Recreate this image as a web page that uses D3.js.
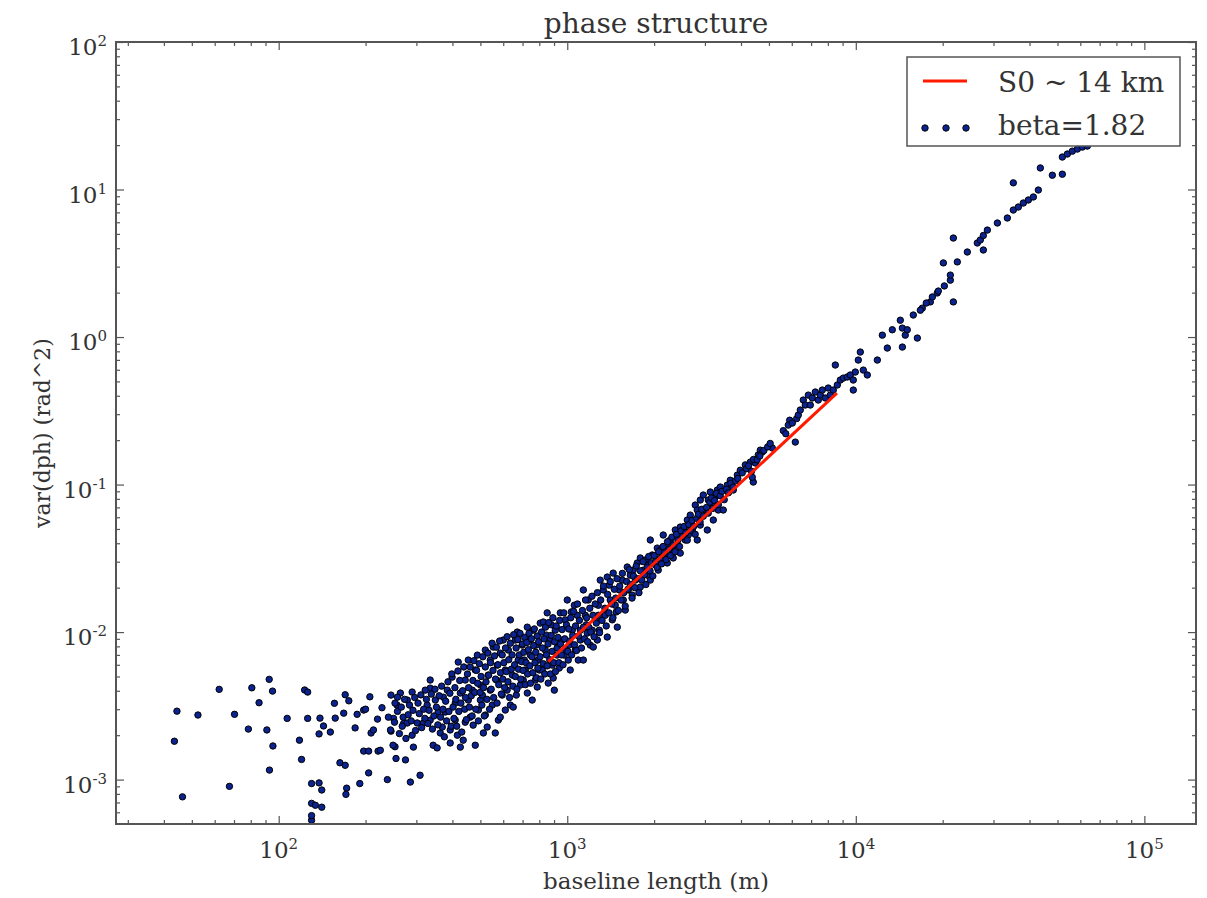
<!DOCTYPE html>
<html>
<head>
<meta charset="utf-8">
<script src="https://cdn.jsdelivr.net/npm/d3@7"></script>
<style>
  body { margin: 0; background: #fff; }
  svg text { font-family: "DejaVu Serif", serif; fill: #333; }
</style>
</head>
<body>
<svg id="chart" width="1207" height="898"></svg>
<script>
// Phase structure function: variance of phase difference vs baseline length.
// Each sample is [baseline length (m), var(dph) (rad^2)].

// Short baselines, noise-dominated floor
const sparsePoints = [
  [44.4,0.00291],[43.5,0.00182],[46.4,0.000764],[52.5,0.00274],[62.2,0.00409],[70.3,0.00277],
  [67.5,0.00090],[80.7,0.00419],[78.5,0.00220],[85.5,0.00332],[92.7,0.00478],[95.2,0.00398],
  [91.0,0.00217],[95.5,0.00169],[92.9,0.00116],[107,0.00260],[118,0.00185],[120,0.00137],
  [123,0.00405],[126,0.00392],[126,0.00260],[130,0.00094],[130,0.00069],[130,0.00053],
  [130,0.00057],[138,0.00095],[141,0.00085],[141,0.00065],[134,0.00067],[139,0.00261],
  [143,0.00231],[138,0.00204],[151,0.00210],[156,0.00329],[157,0.00261],[168,0.00282],
  [170,0.00376],[175,0.00342],[163,0.00130],[170,0.00125],[172,0.000875],[171,0.000794],
  [184,0.00224],[187,0.00277],[197,0.00296],[197,0.00156],[205,0.00156],[221,0.00156],
  [225,0.00158],[191,0.00094],[205,0.00111],[207,0.00364],[200,0.00300],[209,0.00207],
  [213,0.00217],[220,0.00257],[228,0.00307],[238,0.00100],[245,0.00374],[245,0.00213],
  [250,0.00260],[253,0.00167],[255,0.00139],[257,0.00320],[271,0.00240]
];

// Intermediate baselines, edges of the power-law band
const densePoints = [
  [264,0.00386],[270,0.00265],[279,0.00346],[279,0.00242],[290,0.00392],[290,0.00200],[293,0.00166],
  [302,0.00242],[253,0.00330],[258,0.00362],[244,0.00217],[249,0.00171],[240,0.00265],[286,0.000962],
  [309,0.00107],[275,0.00136],
  [317,0.00242],[335,0.00253],[335,0.00417],[335,0.00473],[343,0.00171],[354,0.00164],[363,0.00207],
  [327,0.00320],[349,0.00346],[357,0.00287],[322,0.00404],
  [369,0.00227],[372,0.00362],[378,0.00287],[393,0.00177],[399,0.00495],[409,0.00330],[419,0.00626],
  [426,0.00386],[426,0.00166],[384,0.00404],[409,0.00253],[393,0.00217],[416,0.00200],
  [436,0.00185],[454,0.00346],[454,0.00646],[461,0.00265],[443,0.00473],[469,0.00404],[480,0.00553],
  [492,0.00296],[472,0.00234],[488,0.00698],[500,0.00437],[480,0.00171],[500,0.00346],[443,0.00245],
  [512,0.00207],[520,0.00755],[532,0.00511],[541,0.00404],[550,0.00320],[563,0.00207],[554,0.00791],
  [572,0.00597],[577,0.00253],[520,0.00274],[508,0.00374],[541,0.00646],[568,0.00473],[586,0.00265],
  [586,0.00720],[528,0.00227],
  [600,0.00883],[610,0.00553],[619,0.00404],[635,0.00320],[650,0.00310],[661,0.00883],[671,0.0100],
  [676,0.00646],[645,0.00511],[625,0.00755],[687,0.00437],[595,0.00374],[666,0.00374],[635,0.0121],
  [610,0.00296],
  [698,0.00816],[715,0.00553],[727,0.00386],[727,0.0108],[745,0.00698],[762,0.0103],[775,0.00473],
  [787,0.00424],[793,0.00646],[806,0.0115],[710,0.00646],[756,0.00346],[739,0.00883],[781,0.00816],
  [800,0.00553],[704,0.00473],
  [826,0.0117],[839,0.00755],[852,0.0135],[859,0.00451],[873,0.00883],[887,0.00597],[894,0.00488],
  [909,0.0103],[923,0.00698],[946,0.0135],[819,0.00553],[846,0.00954],[880,0.0112],[931,0.00816],
  [902,0.00404],[938,0.00570],
  [961,0.00883],[984,0.0121],[1000,0.0165],[1008,0.00646],[1024,0.00553],[1041,0.0103],[1066,0.00755],
  [1083,0.0130],[1110,0.00883],[976,0.00698],[1058,0.0152],[1092,0.00646],[1016,0.00816],[1033,0.0137],
  [1137,0.0193],[1137,0.00646],[1155,0.0130],[1173,0.00984],[1182,0.0165],[1201,0.00816],[1231,0.00791],
  [1251,0.0121],[1281,0.0152],[1301,0.0225],[1221,0.0103],[1271,0.00883],[1164,0.0112],[1291,0.0103],
  [1333,0.0193],[1354,0.0130],[1376,0.0236],[1376,0.00925],[1409,0.0165],[1432,0.0121],[1443,0.0251],
  [1467,0.0152],[1491,0.0108],[1514,0.0193],[1398,0.0208],[1479,0.0137],
  [1551,0.0225],[1564,0.0165],[1589,0.0141],[1614,0.0276],[1627,0.0193],[1654,0.0243],[1680,0.0178],
  [1721,0.0225],[1748,0.0294],[1791,0.0318],[1791,0.0202],[1693,0.0263],
  [1834,0.0263],[1864,0.0308],[1894,0.0243],[1940,0.0421],[1940,0.0225],[1970,0.0333],[2018,0.0285],
  [2051,0.0371],[2101,0.0360],[2067,0.0263],[1909,0.0285],
  [2151,0.0455],[2186,0.0333],[2221,0.0294],[2239,0.0389],[2275,0.0421],[2312,0.0360],[2368,0.0492],
  [2406,0.0389],[2464,0.0515],[2464,0.0343],[2330,0.0318],
  [2524,0.0492],[2564,0.0421],[2606,0.0575],[2669,0.0621],[2713,0.0492],[2778,0.0726],[2822,0.0421],
  [2822,0.0672],[2891,0.0785],[2891,0.0531],[2627,0.0455],
  [2961,0.0849],[3009,0.0672],[3057,0.0492],[3082,0.0785],[3131,0.0890],[3181,0.0726],[3207,0.0575],
  [3258,0.0823],[3311,0.0918],[3391,0.0962],[3337,0.0672],
  [3473,0.0672],[3585,0.0992],[3673,0.107],[3762,0.0918],[3885,0.116],[3978,0.125],[4141,0.136],
  [4309,0.142],[4413,0.104],[4485,0.140],[4592,0.159],[4667,0.171],[4741,0.166],[4378,0.112],[5135,0.177]
];

// Interior of the band, where the samples overlap most
const bandCore = [
  [252,0.00245],[258,0.00290],[262,0.00205],[266,0.00310],[268,0.00230],[273,0.00350],[276,0.00190],
  [281,0.00275],[284,0.00320],[288,0.00250],[292,0.00295],[296,0.00360],[298,0.00215],
  [304,0.00330],[307,0.00280],[311,0.00375],[313,0.00225],[318,0.00300],[321,0.00260],[325,0.00350],
  [329,0.00240],[332,0.00295],[338,0.00380],[341,0.00220],[345,0.00270],[348,0.00410],[352,0.00310],
  [356,0.00235],[360,0.00370],[364,0.00265],[367,0.00430],[371,0.00300],[375,0.00195],[379,0.00340],
  [382,0.00250],[386,0.00460],[389,0.00290],[392,0.00385],[396,0.00230],[398,0.00520],
  [402,0.00310],[405,0.00260],[408,0.00420],[411,0.00350],[414,0.00230],[418,0.00545],[421,0.00290],
  [424,0.00470],[428,0.00330],[431,0.00210],[434,0.00400],[438,0.00580],[441,0.00300],[444,0.00360],
  [447,0.00255],[451,0.00520],[455,0.00420],[458,0.00310],[461,0.00580],[465,0.00370],[468,0.00270],
  [471,0.00470],[475,0.00640],[478,0.00390],[482,0.00300],[485,0.00550],[489,0.00450],[492,0.00250],
  [496,0.00610],[499,0.00390],
  [503,0.00500],[506,0.00320],[510,0.00680],[513,0.00420],[516,0.00270],[520,0.00580],[523,0.00460],
  [527,0.00350],[531,0.00720],[534,0.00510],[538,0.00300],[542,0.00620],[545,0.00410],[549,0.00840],
  [553,0.00550],[556,0.00360],[560,0.00690],[564,0.00480],[568,0.00790],[571,0.00330],[575,0.00600],
  [579,0.00440],[583,0.00870],[587,0.00530],[591,0.00380],[595,0.00700],[598,0.00480],
  [603,0.00620],[607,0.00420],[611,0.00780],[615,0.00540],[619,0.00930],[623,0.00460],[627,0.00650],
  [631,0.00360],[635,0.00840],[640,0.00560],[644,0.00700],[648,0.00430],[652,0.00960],[657,0.00600],
  [661,0.00500],[665,0.00780],[669,0.00410],[674,0.00890],[678,0.00560],[682,0.00700],[686,0.00980],
  [690,0.00480],[695,0.00630],[699,0.00830],
  [703,0.00550],[707,0.00730],[712,0.00920],[716,0.00440],[720,0.00620],[724,0.00850],[729,0.00520],
  [733,0.00760],[737,0.00980],[742,0.00590],[746,0.00450],[751,0.00900],[755,0.00680],[760,0.00530],
  [764,0.00810],[769,0.01050],[773,0.00620],[778,0.00730],[782,0.00490],[787,0.00940],[791,0.00570],
  [796,0.00860],
  [805,0.00680],[810,0.00480],[815,0.01000],[820,0.00780],[826,0.00610],[831,0.00900],[836,0.00520],
  [841,0.01080],[847,0.00700],[852,0.00590],[858,0.00830],[863,0.01160],[869,0.00650],[874,0.00520],
  [880,0.00950],[886,0.00740],[892,0.01250],[898,0.00620],[904,0.00860],[910,0.00540],[916,0.01100],
  [922,0.00780],[928,0.00920],[935,0.00620],[941,0.01200],[947,0.00830],[954,0.00700],[960,0.01040],
  [967,0.00600],[973,0.01350],[980,0.00900],[987,0.00760],[994,0.01120],
  [1004,0.00740],[1012,0.01050],[1020,0.00870],[1028,0.01250],[1036,0.00700],[1044,0.00950],
  [1052,0.01380],[1060,0.00820],[1068,0.01100],[1077,0.00750],[1085,0.01550],[1094,0.00940],
  [1102,0.01200],[1111,0.01030],[1120,0.00780],[1129,0.01400],[1138,0.01080],[1148,0.00900],
  [1157,0.01650],[1167,0.01250],[1177,0.00860],[1187,0.01080],[1197,0.01450],[1207,0.01000],
  [1218,0.01750],[1228,0.01300],[1239,0.00930],[1250,0.01550],[1261,0.01150],[1272,0.01850],
  [1283,0.01300],[1294,0.00990],
  [1306,0.01650],[1320,0.01200],[1335,0.02050],[1350,0.01450],[1365,0.01100],[1380,0.01800],
  [1395,0.01350],[1410,0.02200],[1425,0.01550],[1440,0.01250],[1456,0.01950],[1472,0.01700],
  [1488,0.02300],[1504,0.01400],[1520,0.02050],[1537,0.01650],[1553,0.02500],[1570,0.01850],
  [1588,0.01500],[1605,0.02200],[1623,0.01950],[1641,0.02650],[1659,0.02100],[1677,0.01700],
  [1696,0.02400],[1715,0.02000],[1734,0.02800],[1753,0.02300],[1772,0.01850],[1792,0.02600],
  [1812,0.02250],[1832,0.03000],[1852,0.02450],[1873,0.02100],[1894,0.02750],[1915,0.03250],
  [1936,0.02600],[1958,0.02950],[1980,0.02400],
  [2003,0.03300],[2026,0.03000],[2050,0.02750],[2074,0.03500],[2098,0.03150],[2123,0.02900],
  [2148,0.03800],[2173,0.03450],[2199,0.03100],[2225,0.04100],[2252,0.03650],[2279,0.03300],
  [2306,0.04400],[2334,0.03900],[2362,0.03500],[2391,0.04600],[2420,0.04200],[2450,0.03800],
  [2480,0.04850],[2511,0.04450],[2542,0.05200],[2574,0.04700],[2606,0.04200],[2639,0.05350],
  [2672,0.04900],[2706,0.05700],[2741,0.05200],[2776,0.04600],[2812,0.05900],[2849,0.06300],
  [2886,0.05600],[2924,0.06800],[2962,0.06100],
  [3040,0.07000],[3080,0.06400],[3120,0.07600],[3160,0.08100],[3200,0.06900],[3240,0.07800],
  [3290,0.08700],[3340,0.07300],[3390,0.08400],[3440,0.09000],[3500,0.07900],[3560,0.09300],
  [3620,0.08800],[3690,0.10200],[3760,0.09600],[3830,0.10600],[3900,0.11000],[4040,0.12000],
  [4180,0.12800],[4250,0.13400],[4350,0.12300],[4420,0.14800],[4550,0.14700],[4650,0.15600],
  [4800,0.17000],[4950,0.18000],[5050,0.19000]
];

// Long baselines
const longPoints = [
  [5608,0.232],[5720,0.221],[5900,0.273],[6240,0.280],
  [5834,0.253],[6171,0.194],[6026,0.261],[6320,0.296],[6421,0.320],[6577,0.374],[6683,0.346],
  [6846,0.404],[6956,0.346],[7068,0.386],[7239,0.424],[7413,0.374],[7533,0.404],[7654,0.437],
  [7840,0.386],[8028,0.451],[8158,0.404],[8356,0.437],[8491,0.646],[8628,0.473],[8837,0.511],
  [9051,0.527],[9344,0.536],[9570,0.553],[9802,0.511],[9802,0.437],[9960,0.579],[10200,0.698],
  [10366,0.791],[10617,0.597],[10962,0.553],[11875,0.698],[12357,1.03],[12860,0.842],[13380,1.12],
  [14265,1.30],[14500,1.15],[14840,1.03],[15080,1.12],[14500,0.855],[15820,1.41],[16340,0.984],
  [17000,1.57],[18124,1.73],[19160,1.99],
  [16736,1.52],[17550,1.70],[18420,1.87],[19320,2.05],[20270,2.22],[21264,2.43],[21780,1.73],
  [21264,2.63],[20110,3.18],[22480,3.23],[24350,3.77],[21780,4.69],[26370,4.34],[27011,4.55],
  [27670,4.88],[28570,5.31],[27670,3.89],[30950,5.93],[33510,6.41],[35150,7.26],[36580,7.61],
  [38070,8.10],[39630,8.49],[41240,8.90],[35150,11.1],[42910,9.92],[43605,14.0],[47990,12.5],
  [51970,12.7],[51970,16.6],[54100,17.4],[56290,18.2],[58600,18.8],[60980,19.4],[63450,19.7]
];

// Power-law fit: var = var0 * (L / L0)^beta over the fitted range
const fitBeta = 1.82;
const fitStart = [860, 0.0063];
const fitEndBaseline = 8600;

const xMajorTicks = [1e2, 1e3, 1e4, 1e5];
const yMajorTicks = [1e-3, 1e-2, 1e-1, 1e0, 1e1, 1e2];
const legendLabels = ["S0 ~ 14 km", "beta=1.82"];
const titleText = "phase structure";
const xLabelText = "baseline length (m)";
const yLabelText = "var(dph) (rad^2)";

const plot = { left: 116, right: 1196, top: 42, bottom: 824 };
const svg = d3.select("#chart");

const x = d3.scaleLog().domain([27.3, 151000]).range([plot.left, plot.right]);
const y = d3.scaleLog().domain([5e-4, 100]).range([plot.bottom, plot.top]);

function minorTicks(scale) {
  const [a, b] = scale.domain();
  const out = [];
  for (let e = Math.floor(Math.log10(a)); e <= Math.ceil(Math.log10(b)); e++) {
    for (let k = 2; k <= 9; k++) {
      const v = k * Math.pow(10, e);
      if (v > a && v < b) out.push(v);
    }
  }
  return out;
}

svg.append("defs").append("clipPath").attr("id", "plot-clip")
  .append("rect")
  .attr("x", plot.left).attr("y", plot.top)
  .attr("width", plot.right - plot.left).attr("height", plot.bottom - plot.top);

// Scatter
const allPoints = sparsePoints.concat(densePoints, bandCore, longPoints);
const pointFill = "#0b2390";
svg.append("g").attr("clip-path", "url(#plot-clip)")
  .selectAll("circle").data(allPoints).join("circle")
  .attr("cx", d => x(d[0]))
  .attr("cy", d => y(d[1]))
  .attr("r", 3.2)
  .attr("fill", pointFill)
  .attr("stroke", "#000")
  .attr("stroke-width", 1);

// Fit line
const fitLine = [fitStart, [fitEndBaseline, fitStart[1] * Math.pow(fitEndBaseline / fitStart[0], fitBeta)]];
svg.append("path")
  .datum(fitLine)
  .attr("d", d3.line().x(d => x(d[0])).y(d => y(d[1])))
  .attr("fill", "none")
  .attr("stroke", "#ff1a00")
  .attr("stroke-width", 3);

// Axes with inward ticks on all four sides
const axisColor = "#555";
const majorLen = 8, minorLen = 4;
function styleAxis(g) {
  g.select(".domain").remove();
  g.selectAll("line").attr("stroke", axisColor).attr("stroke-width", 1.2);
  g.selectAll("text").remove();
}
const xMinor = minorTicks(x), yMinor = minorTicks(y);

svg.append("g").attr("transform", `translate(0,${plot.bottom})`)
  .call(d3.axisBottom(x).tickValues(xMajorTicks).tickSize(-majorLen)).call(styleAxis);
svg.append("g").attr("transform", `translate(0,${plot.bottom})`)
  .call(d3.axisBottom(x).tickValues(xMinor).tickSize(-minorLen)).call(styleAxis);
svg.append("g").attr("transform", `translate(0,${plot.top})`)
  .call(d3.axisTop(x).tickValues(xMajorTicks).tickSize(-majorLen)).call(styleAxis);
svg.append("g").attr("transform", `translate(0,${plot.top})`)
  .call(d3.axisTop(x).tickValues(xMinor).tickSize(-minorLen)).call(styleAxis);
svg.append("g").attr("transform", `translate(${plot.left},0)`)
  .call(d3.axisLeft(y).tickValues(yMajorTicks).tickSize(-majorLen)).call(styleAxis);
svg.append("g").attr("transform", `translate(${plot.left},0)`)
  .call(d3.axisLeft(y).tickValues(yMinor).tickSize(-minorLen)).call(styleAxis);
svg.append("g").attr("transform", `translate(${plot.right},0)`)
  .call(d3.axisRight(y).tickValues(yMajorTicks).tickSize(-majorLen)).call(styleAxis);
svg.append("g").attr("transform", `translate(${plot.right},0)`)
  .call(d3.axisRight(y).tickValues(yMinor).tickSize(-minorLen)).call(styleAxis);

// Frame
svg.append("rect")
  .attr("x", plot.left).attr("y", plot.top)
  .attr("width", plot.right - plot.left).attr("height", plot.bottom - plot.top)
  .attr("fill", "none").attr("stroke", axisColor).attr("stroke-width", 2);

// Power-of-ten tick labels
function powLabel(sel, v) {
  const e = Math.round(Math.log10(v));
  sel.append("tspan").text("10");
  sel.append("tspan").attr("font-size", 15).attr("dy", -9).text(String(e));
}
svg.append("g").selectAll("text").data(xMajorTicks).join("text")
  .attr("x", d => x(d)).attr("y", plot.bottom + 34)
  .attr("text-anchor", "middle").attr("font-size", 23)
  .each(function(d) { powLabel(d3.select(this), d); });
svg.append("g").selectAll("text").data(yMajorTicks).join("text")
  .attr("x", plot.left - 9).attr("y", d => y(d) + 13)
  .attr("text-anchor", "end").attr("font-size", 23)
  .each(function(d) { powLabel(d3.select(this), d); });

// Titles
const midX = (plot.left + plot.right) / 2;
svg.append("text").attr("x", midX).attr("y", 33)
  .attr("text-anchor", "middle").attr("font-size", 28).text(titleText);
svg.append("text").attr("x", midX).attr("y", 889)
  .attr("text-anchor", "middle").attr("font-size", 23).text(xLabelText);
svg.append("text")
  .attr("transform", `translate(50,${(plot.top + plot.bottom) / 2}) rotate(-90)`)
  .attr("text-anchor", "middle").attr("font-size", 22).text(yLabelText);

// Legend
const legend = svg.append("g");
legend.append("rect")
  .attr("x", 907).attr("y", 57).attr("width", 273).attr("height", 89)
  .attr("fill", "#fff").attr("stroke", "#555").attr("stroke-width", 1.5);
legend.append("line")
  .attr("x1", 923).attr("x2", 967).attr("y1", 81).attr("y2", 81)
  .attr("stroke", "#ff1a00").attr("stroke-width", 3);
legend.selectAll("circle.key").data([925, 946, 966]).join("circle")
  .attr("class", "key").attr("cx", d => d).attr("cy", 128).attr("r", 3.2)
  .attr("fill", pointFill).attr("stroke", "#000").attr("stroke-width", 1);
legend.selectAll("text").data(legendLabels).join("text")
  .attr("x", 998).attr("y", (d, i) => 92 + i * 43)
  .attr("font-size", 28).text(d => d);
</script>
</body>
</html>
